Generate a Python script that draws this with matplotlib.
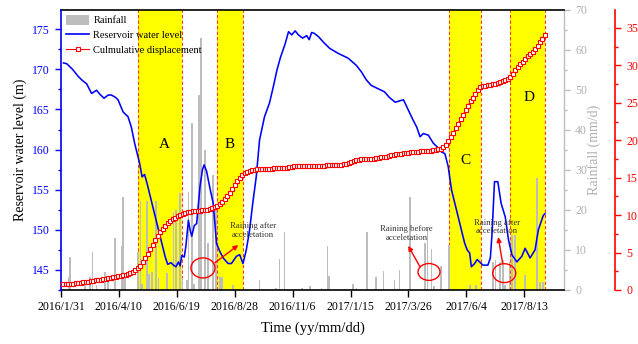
import numpy as np
import pandas as pd
import matplotlib
matplotlib.use('Agg')
import matplotlib.pyplot as plt
import matplotlib.dates as mdates
from matplotlib.patches import Ellipse, Patch
from matplotlib.lines import Line2D
from matplotlib.ticker import MultipleLocator

plt.rcParams['font.family'] = ['Liberation Serif', 'DejaVu Serif']

# ---------------- data ----------------
START = '2016-01-31'
END = '2017-09-30'
tick_labels = ['2016/1/31', '2016/4/10', '2016/6/19', '2016/8/28', '2016/11/6',
               '2017/1/15', '2017/3/26', '2017/6/4', '2017/8/13']

region_names = ['A', 'B', 'C', 'D']
region_start = ['2016-05-03', '2016-08-07', '2017-05-14', '2017-07-27']
region_end = ['2016-06-25', '2016-09-07', '2017-06-22', '2017-09-07']

# reservoir water level: day offset from START, level (m)
level_day = [3, 7, 14, 21, 26, 31, 37, 43, 47, 52, 57, 61, 66, 69, 75, 81, 85, 89, 95, 98,
             101, 104, 108, 114, 120, 123, 126, 129, 133, 136, 139, 142, 144, 146, 149, 151,
             154, 156, 158, 161, 164, 168, 171, 173, 176, 180, 184, 188, 192, 196, 202, 206,
             212, 216, 220, 224, 228, 232, 236, 240, 246, 252, 257, 261, 265, 271, 275, 279,
             283, 287, 292, 297, 300, 303, 306, 311, 318, 325, 335, 347, 357, 363, 369, 375,
             383, 391, 397, 404, 410, 414, 420, 425, 430, 434, 438, 444, 450, 454, 460, 464,
             468, 472, 478, 484, 488, 491, 494, 496, 500, 503, 506, 510, 516, 519, 521, 524,
             528, 532, 537, 541, 545, 551, 557, 561, 567, 573, 577, 583, 585]
level_m = [170.8, 170.7, 170.0, 169.1, 168.6, 168.2, 167.0, 167.4, 166.9, 166.4, 166.8, 166.8,
           166.5, 166.2, 164.7, 164.1, 162.8, 160.8, 158.3, 156.6, 156.9, 155.8, 154.1, 151.6,
           149.1, 147.8, 146.6, 145.7, 145.9, 145.6, 145.4, 146.0, 145.5, 146.8, 146.6, 148.0,
           151.2, 150.0, 149.2, 150.5, 150.8, 155.4, 157.5, 158.1, 157.3, 155.2, 153.3, 148.3,
           147.3, 146.5, 145.8, 145.8, 146.7, 146.9, 145.8, 147.5, 150.0, 153.5, 156.6, 161.2,
           164.1, 165.8, 168.0, 169.9, 171.4, 173.2, 174.7, 174.3, 174.8, 174.3, 173.9, 174.2,
           173.7, 174.6, 174.5, 174.1, 173.3, 172.6, 172.0, 171.4, 170.5, 169.7, 168.7, 168.0,
           167.6, 167.2, 166.5, 165.9, 166.1, 166.2, 164.9, 163.8, 162.8, 161.6, 162.0, 161.8,
           160.8, 160.4, 159.7, 159.5, 157.9, 155.0, 152.5, 150.0, 148.3, 147.5, 147.1, 145.4,
           145.8, 146.3, 146.0, 145.6, 145.6, 146.5, 149.5, 156.0, 156.0, 153.3, 151.6, 148.7,
           146.9, 146.0, 146.7, 147.7, 146.5, 147.5, 150.0, 151.8, 152.0]

# rainfall: day offset from START, mm/d
rain_day = [9, 11, 29, 35, 38, 43, 53, 57, 65, 73, 75, 77, 93, 96, 98, 104, 106, 110, 115, 118,
            128, 136, 139, 144, 147, 152, 154, 158, 161, 167, 169, 174, 178, 184, 187, 192, 195,
            208, 240, 260, 264, 270, 291, 301, 315, 322, 324, 339, 342, 353, 357, 370, 381, 390,
            403, 409, 422, 440, 443, 448, 451, 459, 469, 494, 502, 522, 525, 531, 534, 537, 542,
            545, 549, 561, 575, 579, 583]
rain_mm = [3.3, 8.3, 2.1, 3.3, 9.4, 1.2, 4.6, 2.5, 12.9, 11.0, 23.3, 3.3, 9.6, 22.3, 1.5, 22.3,
           4.0, 4.6, 22.3, 3.0, 4.2, 19.6, 20.0, 24.2, 3.0, 2.5, 24.6, 41.7, 1.5, 48.8, 62.9,
           35.0, 11.7, 28.8, 20.8, 3.3, 3.3, 1.2, 2.5, 0.5, 7.8, 14.5, 0.4, 1.0, 0.6, 11.0, 3.6,
           0.3, 0.3, 1.4, 0.6, 14.6, 3.2, 4.8, 2.6, 5.0, 23.2, 11.7, 15.5, 10.2, 1.0, 6.0, 11.2,
           1.3, 1.3, 7.1, 7.5, 7.1, 7.5, 1.3, 7.1, 13.8, 13.8, 3.8, 27.9, 2.0, 2.0]

# cumulative displacement (mm), one reading every 3 days from START
disp_mm = [0.75, 0.76, 0.78, 0.80, 0.83, 0.86, 0.90, 0.94, 0.98, 1.03,
           1.08, 1.13, 1.18, 1.23, 1.28, 1.33, 1.38, 1.43, 1.49, 1.55,
           1.61, 1.67, 1.74, 1.81, 1.88, 1.95, 2.03, 2.12, 2.24, 2.40,
           2.62, 2.90, 3.25, 3.70, 4.25, 4.85, 5.45, 6.05, 6.65, 7.20,
           7.70, 8.15, 8.55, 8.90, 9.20, 9.45, 9.65, 9.85, 10.00, 10.15,
           10.28, 10.38, 10.45, 10.50, 10.55, 10.58, 10.60, 10.63, 10.67, 10.72,
           10.80, 10.90, 11.05, 11.25, 11.50, 11.80, 12.15, 12.55, 13.00, 13.50,
           14.00, 14.50, 14.95, 15.30, 15.60, 15.82, 15.95, 16.03, 16.08, 16.10,
           16.12, 16.14, 16.16, 16.18, 16.20, 16.22, 16.24, 16.26, 16.28, 16.30,
           16.33, 16.36, 16.40, 16.45, 16.50, 16.52, 16.54, 16.56, 16.57, 16.58,
           16.59, 16.60, 16.60, 16.60, 16.61, 16.62, 16.62, 16.63, 16.64, 16.65,
           16.66, 16.68, 16.70, 16.73, 16.77, 16.82, 16.90, 17.05, 17.25, 17.38,
           17.42, 17.44, 17.46, 17.48, 17.50, 17.52, 17.56, 17.60, 17.65, 17.70,
           17.76, 17.83, 17.90, 17.97, 18.04, 18.10, 18.15, 18.20, 18.25, 18.30,
           18.34, 18.38, 18.42, 18.45, 18.48, 18.50, 18.52, 18.55, 18.58, 18.60,
           18.65, 18.70, 18.78, 18.90, 19.05, 19.40, 19.85, 20.40, 21.00, 21.60,
           22.20, 22.80, 23.40, 24.00, 24.60, 25.20, 25.70, 26.20, 26.70, 27.05,
           27.20, 27.28, 27.35, 27.42, 27.50, 27.58, 27.66, 27.75, 27.85, 28.00,
           28.20, 28.50, 28.90, 29.35, 29.75, 30.15, 30.50, 30.85, 31.20, 31.55,
           31.85, 32.15, 32.60, 33.10, 33.55, 34.00]

# ---------------- derived dates ----------------
t0 = pd.Timestamp(START)
level_dates = t0 + pd.to_timedelta(level_day, unit='D')
rain_dates = t0 + pd.to_timedelta(rain_day, unit='D')
disp_dates = pd.date_range(START, periods=len(disp_mm), freq='3D')
tick_dates = pd.to_datetime(tick_labels, format='%Y/%m/%d')

GREY = '#bdbdbd'
GREY_TXT = '#b0b0b0'
BLUE = '#0000ff'
RED = '#ff0000'

fig = plt.figure(figsize=(6.38, 3.44), dpi=100)
ax_r = fig.add_axes([61 / 638, 54 / 344, 503 / 638, 280 / 344])
ax_w = ax_r.twinx()
ax_d = ax_r.twinx()

ax_r.yaxis.tick_right()
ax_r.yaxis.set_label_position('right')
ax_w.yaxis.tick_left()
ax_w.yaxis.set_label_position('left')

# yellow regions
for s, e in zip(region_start, region_end):
    ax_r.axvspan(pd.Timestamp(s), pd.Timestamp(e), color='#ffff00', lw=0, zorder=0)
    for d in (s, e):
        ax_r.axvline(pd.Timestamp(d), color='#ff3a1a', lw=0.8, ls=(0, (3, 2)), zorder=1)

ax_r.bar(rain_dates, rain_mm, width=2.0, color=GREY, zorder=2)
ax_r.set_ylim(0, 70)
ax_r.set_xlim(t0, pd.Timestamp(END))
ax_r.set_xticks(tick_dates)
ax_r.set_xticklabels(tick_labels)
ax_r.yaxis.set_major_locator(MultipleLocator(10))
ax_r.yaxis.set_minor_locator(MultipleLocator(5))
ax_r.tick_params(axis='x', direction='out', length=5, width=1, labelsize=8.5, pad=3)
ax_r.tick_params(axis='y', which='major', colors=GREY, labelcolor=GREY_TXT, direction='out',
                 length=4.5, width=1, labelsize=8.5)
ax_r.tick_params(axis='y', which='minor', colors=GREY, direction='out', length=2.5, width=1)
ax_r.spines['left'].set_visible(False)
ax_r.spines['right'].set_color(GREY)
ax_r.spines['right'].set_linewidth(1.0)
ax_r.spines['top'].set_linewidth(1.2)
ax_r.spines['bottom'].set_linewidth(1.2)
ax_r.set_ylabel('Rainfall (mm/d)', color=GREY_TXT, fontsize=10)
ax_r.yaxis.set_label_coords(1.046, 0.5)
ax_r.set_xlabel('Time (yy/mm/dd)', fontsize=10.5)
ax_r.xaxis.set_label_coords(0.5, -0.112)

# water level
ax_w.plot(level_dates, level_m, color=BLUE, lw=1.15, zorder=3)
ax_w.set_ylim(142.5, 177.4)
ax_w.yaxis.set_major_locator(MultipleLocator(5))
ax_w.yaxis.set_minor_locator(MultipleLocator(2.5))
ax_w.tick_params(axis='y', which='major', colors=BLUE, direction='out', length=4.5, width=1,
                 labelsize=8.5)
ax_w.tick_params(axis='y', which='minor', colors=BLUE, direction='out', length=2.5, width=1)
for s in ax_w.spines.values():
    s.set_visible(False)
ax_w.spines['left'].set_visible(True)
ax_w.spines['left'].set_color(BLUE)
ax_w.spines['left'].set_linewidth(1.2)
ax_w.set_ylabel('Reservoir water level (m)', fontsize=10)
ax_w.yaxis.set_label_coords(-0.068, 0.5)

# annotations (ellipses, arrows, texts)
def dn(day):
    return mdates.date2num(t0 + pd.Timedelta(days=day))

for cday, clev, w, h in [(171.6, 145.25, 29, 2.5), (444.8, 144.75, 26.6, 2.1),
                         (535.8, 144.6, 27.8, 2.35)]:
    ax_w.add_patch(Ellipse((dn(cday), clev), w, h, fill=False, ec=RED, lw=1.0, zorder=5))

for (d0, l0), (d1, l1) in [((186.1, 145.9), (214.3, 148.1)),
                           ((433.9, 145.4), (419.7, 148.0)),
                           ((533.8, 145.83), (528.5, 149.1))]:
    ax_w.annotate('', xy=(dn(d1), l1), xytext=(dn(d0), l0),
                  arrowprops=dict(arrowstyle='-|>', color=RED, lw=1.0, mutation_scale=7,
                                  shrinkA=0, shrinkB=0), zorder=5)

for d, l, s in [(232.4, 149.95, 'Raining after\nacceletation'),
                (417.8, 149.5, 'Raining before\nacceletation'),
                (526.6, 150.35, 'Raining after\nacceletation')]:
    ax_w.text(dn(d), l, s, ha='center', va='center', fontsize=6.3, color='#333333',
              linespacing=1.15, zorder=6)

for name, d, l in [('A', 124.5, 160.6), ('B', 204.3, 160.6), ('C', 488.3, 158.7),
                   ('D', 565.6, 166.5)]:
    ax_w.text(dn(d), l, name, ha='center', va='center', fontsize=11, zorder=6)

# displacement
ax_d.plot(disp_dates, disp_mm, color=RED, lw=0.8, marker='s', ms=2.8, mfc='white',
          mec=RED, mew=0.8, zorder=4)
ax_d.set_ylim(0, 37.4)
ax_d.yaxis.set_major_locator(MultipleLocator(5))
ax_d.yaxis.set_minor_locator(MultipleLocator(2.5))
for s in ax_d.spines.values():
    s.set_visible(False)
ax_d.spines['right'].set_visible(True)
ax_d.spines['right'].set_position(('axes', 1.1014))
ax_d.spines['right'].set_color(RED)
ax_d.spines['right'].set_linewidth(1.2)
ax_d.tick_params(axis='y', which='major', colors=RED, direction='out', length=4.5, width=1,
                 labelsize=8.5)
ax_d.tick_params(axis='y', which='minor', colors=RED, direction='out', length=2.5, width=1)

handles = [Patch(facecolor=GREY, edgecolor='none'),
           Line2D([], [], color=BLUE, lw=1.2),
           Line2D([], [], color=RED, lw=0.8, marker='s', ms=2.8, mfc='white', mec=RED, mew=0.8)]
labels = ['Rainfall', 'Reservoir water level', 'Culmulative displacement']
ax_d.legend(handles, labels, loc='upper left', bbox_to_anchor=(0.0, 1.0), frameon=False,
            fontsize=7.5, handlelength=2.2, handletextpad=0.4, labelspacing=0.45,
            handleheight=1.0, borderaxespad=0.3, borderpad=0.2)

fig.savefig('out.png', dpi=100)
